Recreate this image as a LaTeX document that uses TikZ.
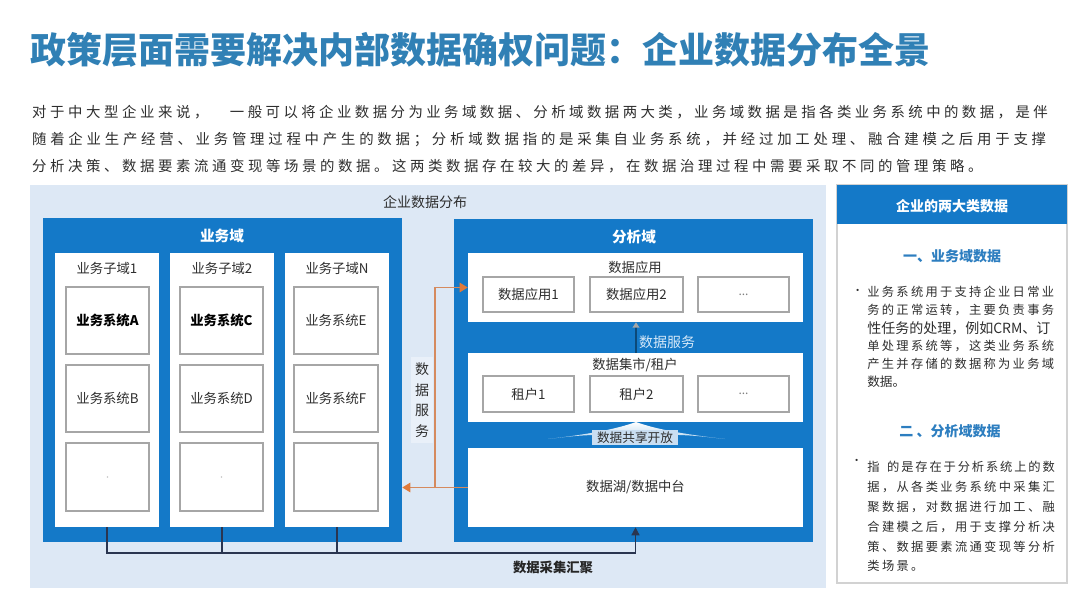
\documentclass[tikz,border=0pt]{standalone}
\usepackage{fontspec}
\setmainfont{Noto Sans CJK SC}
\usetikzlibrary{fit,arrows.meta,calc}
\definecolor{bluemain}{HTML}{1479C8}
\definecolor{panelbg}{HTML}{DDE8F5}
\definecolor{lightbg}{HTML}{E9F0F9}
\definecolor{titleblue}{HTML}{3080B5}
\definecolor{textgray}{HTML}{2E2E2E}
\definecolor{boxgray}{HTML}{A6A6A6}
\definecolor{orangeline}{HTML}{D58A5E}
\definecolor{orangetip}{HTML}{E07A3A}
\definecolor{navy}{HTML}{2A3550}
\definecolor{headblue}{HTML}{2D7EC0}
\definecolor{svctext}{HTML}{D5E8F8}
\ExplSyntaxOn
\NewDocumentCommand\spacedtext{mm}{\tl_map_inline:nn {#2}{\makebox[#1]{##1}}}
\ExplSyntaxOff
\tikzset{
  bluebox/.style={fill=bluemain, draw=none, inner sep=0pt},
  whitepanel/.style={fill=white, draw=none, inner sep=0pt},
  sysbox/.style={fill=white, draw=boxgray, line width=1.1pt, inner sep=0pt},
  lbl/.style={font=\fontsize{10pt}{12pt}\selectfont, text=textgray, inner sep=0pt},
  bluetitle/.style={font=\fontsize{11pt}{13pt}\selectfont\bfseries, text=white, inner sep=0pt},
  oline/.style={draw=orangeline, line width=1.2pt},
  nline/.style={draw=navy, line width=1pt},
  para/.style={anchor=west, inner sep=0pt, font=\fontsize{10.8pt}{12pt}\selectfont, text=textgray},
  sidetxt/.style={anchor=west, inner sep=0pt, font=\fontsize{9.2pt}{11pt}\selectfont, text=textgray},
  sidehead/.style={font=\fontsize{10.5pt}{12pt}\selectfont\bfseries, text=headblue, inner sep=0pt},
  otip/.style={-{Triangle[width=7pt,length=6pt,fill=orangetip,color=orangetip]}},
  dots/.style={text=gray, font=\fontsize{9pt}{10pt}\selectfont, inner sep=0pt},
}
\begin{document}
\begin{tikzpicture}[x=0.75pt,y=-0.75pt]
\useasboundingbox (0,0) rectangle (1080,606);
\fill[white] (0,0) rectangle (1080,606);

% title and paragraph
\node[anchor=west, inner sep=0pt, font=\fontsize{27pt}{30pt}\selectfont\bfseries, text=titleblue] (title) at (30,50) {政策层面需要解决内部数据确权问题：企业数据分布全景};
\node[para] (p1) at (30,112) {\spacedtext{13.5pt}{对于中大型企业来说，}\hspace{13.5pt}\spacedtext{13.39pt}{一般可以将企业数据分为业务域数据、分析域数据两大类，业务域数据是指各类业务系统中的数据，是伴}};
\node[para] (p2) at (30,140) {\spacedtext{13.63pt}{随着企业生产经营、业务管理过程中产生的数据；分析域数据指的是采集自业务系统，并经过加工处理、融合建模之后用于支撑}};
\node[para] (p3) at (30,166) {\spacedtext{13.5pt}{分析决策、数据要素流通变现等场景的数据。这两类数据存在较大的差异，在数据治理过程中需要采取不同的管理策略。}};

% background panel
\node[fill=panelbg, inner sep=0pt, fit={(30,185)(826,588)}] (bg) {};
\node[lbl, font=\fontsize{10.5pt}{12pt}\selectfont] (bgtitle) at (425,202) {企业数据分布};

% business domain
\node[bluebox, fit={(43,218)(402,542)}] (biz) {};
\node[bluetitle] (biztitle) at (222,236) {业务域};
\node[whitepanel, fit={(55,253)(159,527)}] (col1) {};
\node[whitepanel, fit={(170,253)(274,527)}] (col2) {};
\node[whitepanel, fit={(285,253)(389,527)}] (col3) {};
\node[lbl] (c1t) at (107,268) {业务子域1};
\node[lbl] (c2t) at (222,268) {业务子域2};
\node[lbl] (c3t) at (337,268) {业务子域N};

\node[sysbox, fit={(66,287)(149,354)}] (sA) {};
\node[sysbox, fit={(66,365)(149,432)}] (sB) {};
\node[sysbox, fit={(66,443)(149,511)}] (sX1) {};
\node[sysbox, fit={(180,287)(263,354)}] (sC) {};
\node[sysbox, fit={(180,365)(263,432)}] (sD) {};
\node[sysbox, fit={(180,443)(263,511)}] (sX2) {};
\node[sysbox, fit={(294,287)(378,354)}] (sE) {};
\node[sysbox, fit={(294,365)(378,432)}] (sF) {};
\node[sysbox, fit={(294,443)(378,511)}] (sX3) {};
\node[lbl, font=\fontsize{10pt}{12pt}\selectfont\bfseries, text=black] (sAt) at (sA.center) {业务系统A};
\node[lbl] (sBt) at (sB.center) {业务系统B};
\node[lbl, font=\fontsize{10pt}{12pt}\selectfont\bfseries, text=black] (sCt) at (sC.center) {业务系统C};
\node[lbl] (sDt) at (sD.center) {业务系统D};
\node[lbl] (sEt) at (sE.center) {业务系统E};
\node[lbl] (sFt) at (sF.center) {业务系统F};
\fill[gray!45] (sX1.center) circle (0.8);
\fill[gray!45] (sX2.center) circle (0.8);

% analysis domain
\node[bluebox, fit={(454,219)(813,542)}] (ana) {};
\node[bluetitle] (anatitle) at (634,237) {分析域};
\node[whitepanel, fit={(468,253)(803,322)}] (app) {};
\node[lbl] (appt) at (635,267) {数据应用};
\node[sysbox, line width=0.9pt, fit={(483,277)(574,312)}] (app1) {};
\node[sysbox, line width=0.9pt, fit={(590,277)(683,312)}] (app2) {};
\node[sysbox, line width=0.9pt, fit={(698,277)(789,312)}] (app3) {};
\node[lbl] at (app1.center) {数据应用1};
\node[lbl] at (app2.center) {数据应用2};
\node[dots] at (app3.center) {...};

\node[whitepanel, fit={(468,353)(803,422)}] (mart) {};
\node[lbl] (martt) at (635,365) {数据集市/租户};
\node[sysbox, line width=0.9pt, fit={(483,376)(574,412)}] (t1) {};
\node[sysbox, line width=0.9pt, fit={(590,376)(683,412)}] (t2) {};
\node[sysbox, line width=0.9pt, fit={(698,376)(789,412)}] (t3) {};
\node[lbl] at (t1.center) {租户1};
\node[lbl] at (t2.center) {租户2};
\node[dots] at (t3.center) {...};

\node[whitepanel, fit={(468,448)(803,527)}] (lake) {};
\node[lbl] (laket) at (lake.center) {数据湖/数据中台};

% data service link
\draw[draw=bluemain!60!black, line width=1.4pt, -{Triangle[width=5pt,length=4pt,fill=gray!70,color=gray!70]}] (mart.north -| 636,0) -- (app.south -| 636,0);
\node[lbl, text=svctext, font=\fontsize{10.5pt}{12pt}\selectfont] (svct) at (667,342) {数据服务};

% data sharing arrow
\shade[top color=white, bottom color=bluemain!30, draw=none]
  (548,439) .. controls (600,433) and (622,427) .. (636,422)
  .. controls (650,427) and (672,433) .. (725,439)
  .. controls (690,435) .. (636,434) .. controls (582,435) .. (548,439) -- cycle;
\node[fill=lightbg!85!bluemain, inner sep=0pt, fit={(592,430)(678,445)}] (share) {};
\node[lbl, font=\fontsize{9.5pt}{11pt}\selectfont] (sharet) at (share.center) {数据共享开放};

% data service label and orange connectors
\node[fill=lightbg, inner xsep=3pt, inner ysep=4pt, align=center, text=textgray, font=\fontsize{10.5pt}{15.4pt}\selectfont] (dsvc) at (422,400) {数\\据\\服\\务};
\coordinate (oj) at (435,488);
\draw[oline, otip] (lake.west) -- (lake.west -| biz.east);
\draw[oline, otip] (oj) |- (app.west);

% collection bus
\coordinate (bus) at (635.5,553);
\draw[nline] (col1.south) |- (bus);
\draw[nline] (col2.south) -- (col2.south |- bus);
\draw[nline] (col3.south) -- (col3.south |- bus);
\draw[nline, -{Triangle[width=6pt,length=6pt]}] (bus) -- (lake.south);
\node[lbl, font=\fontsize{10pt}{12pt}\selectfont\bfseries, text=black!85] (bust) at (553,567) {数据采集汇聚};

% right panel
\node[fill=white, draw=gray!35, line width=1pt, inner sep=0pt, fit={(837,185)(1067,583)}] (sidebox) {};
\node[bluebox, fit={(837,185)(1067,224)}] (sidehd) {};
\node[bluetitle, font=\fontsize{10.5pt}{12pt}\selectfont\bfseries] (sidehdt) at (952,206) {企业的两大类数据};
\node[sidehead] (h1) at (952,256) {一、业务域数据};
\node[sidetxt, font=\fontsize{8pt}{9pt}\selectfont] (b1) at (852,292) {·};
\node[sidetxt] (l11) at (866,292) {\spacedtext{10.9pt}{业务系统用于支持企业日常业}};
\node[sidetxt] (l12) at (866,310) {\spacedtext{10.9pt}{务的正常运转，主要负责事务}};
\node[sidetxt, font=\fontsize{10.5pt}{12pt}\selectfont] (l13) at (867,328) {性任务的处理，例如CRM、订};
\node[sidetxt] (l14) at (866,346) {\spacedtext{10.9pt}{单处理系统等，这类业务系统}};
\node[sidetxt] (l15) at (866,364) {\spacedtext{10.9pt}{产生并存储的数据称为业务域}};
\node[sidetxt, font=\fontsize{9.5pt}{11pt}\selectfont] (l16) at (867,382) {数据。};

\node[sidehead] (h2) at (950,431) {二 、分析域数据};
\node[sidetxt, font=\fontsize{8pt}{9pt}\selectfont] (b2) at (851,462) {·};
\node[sidetxt] (l21) at (866,467) {\spacedtext{10.95pt}{指}\hspace{4pt}\spacedtext{10.6pt}{的是存在于分析系统上的数}};
\node[sidetxt] (l22) at (866,487) {\spacedtext{10.95pt}{据，从各类业务系统中采集汇}};
\node[sidetxt] (l23) at (866,507) {\spacedtext{10.95pt}{聚数据，对数据进行加工、融}};
\node[sidetxt] (l24) at (866,527) {\spacedtext{10.95pt}{合建模之后，用于支撑分析决}};
\node[sidetxt] (l25) at (866,547) {\spacedtext{10.95pt}{策、数据要素流通变现等分析}};
\node[sidetxt] (l26) at (866,566) {\spacedtext{10.95pt}{类场景。}};
\end{tikzpicture}
\end{document}
